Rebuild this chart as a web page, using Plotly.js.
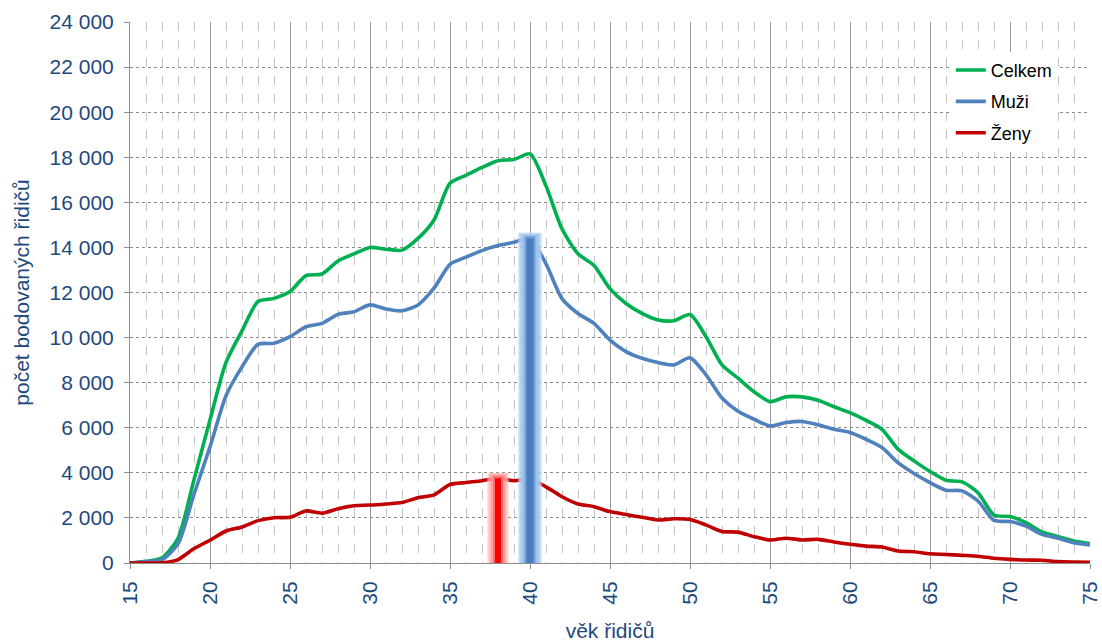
<!DOCTYPE html>
<html>
<head>
<meta charset="utf-8">
<script src="https://cdn.plot.ly/plotly-3.0.1.min.js"></script>
<style>html,body{margin:0;padding:0;background:#fff;}#chart{width:1102px;height:642px;}</style>
</head>
<body>
<div id="chart"></div>
<script>
var ages = [];
for (var a = 15; a <= 75; a++) ages.push(a);

var celkem = [0,75,230,1100,3700,6350,8900,10300,11600,11740,
  12040,12750,12820,13400,13710,14000,13920,13880,14400,15220,
  16850,17200,17550,17850,17900,18150,16730,14820,13720,13200,
  12170,11510,11070,10780,10750,11020,10040,8790,8200,7600,
  7160,7370,7370,7220,6930,6670,6330,5930,5050,4530,
  4060,3670,3600,3120,2130,2060,1790,1380,1170,980,860];
var muzi = [0,60,150,850,3050,5150,7420,8700,9700,9750,
  10040,10480,10630,11030,11150,11450,11270,11190,11450,12190,
  13250,13570,13860,14080,14230,14400,13270,11730,11070,10630,
  9890,9380,9080,8890,8790,9100,8350,7320,6730,6380,
  6080,6230,6280,6130,5930,5790,5490,5120,4450,3970,
  3570,3230,3200,2750,1890,1840,1640,1270,1100,900,800];
var zeny = [0,0,10,150,640,1010,1420,1600,1880,2010,
  2030,2310,2210,2410,2540,2570,2620,2680,2900,3020,
  3480,3570,3650,3760,3650,3720,3380,2940,2620,2500,
  2280,2150,2030,1910,1960,1930,1690,1400,1370,1170,
  1020,1100,1020,1050,930,830,750,710,530,500,
  410,380,340,300,210,160,130,120,60,40,30];

var seriesNames = ['Celkem', 'Muži', 'Ženy'];
var peakZenyAge = 38;
var peakMuziAge = 40;

var fontFam = '"Liberation Sans", Arial, sans-serif';
var axisBlue = '#1F497D';

function series(name, y, color, grp) {
  return {x: ages, y: y, name: name, type: 'scatter', mode: 'lines',
    legendgroup: grp, line: {color: color, width: 3.6, shape: 'spline', smoothing: 0.7},
    hoverinfo: 'skip'};
}
function glowBar(age, top, layers) {
  return layers.map(function (l) {
    return {x: [age, age], y: [-300, top + l[3]], type: 'scatter', mode: 'lines',
      showlegend: false, hoverinfo: 'skip', opacity: l[2],
      line: {color: l[0], width: l[1]}};
  });
}

var traces = [
  series(seriesNames[0], celkem, '#00B050', 'g1'),
  series(seriesNames[1], muzi, '#4F81BD', 'g2'),
  series(seriesNames[2], zeny, '#C00000', 'g3')
];
var redTop = zeny[peakZenyAge - 15];
var blueTop = muzi[peakMuziAge - 15];
traces = traces.concat(glowBar(peakZenyAge, redTop, [
  ['#FFC4C4', 22, 0.45, 260], ['#FFAAAA', 19, 0.6, 220], ['#FF9090', 15, 0.7, 170],
  ['#FF6060', 10, 0.8, 100], ['#FF0000', 6, 1, 0]
]));
traces = traces.concat(glowBar(peakMuziAge, blueTop, [
  ['#BBD6F6', 24, 0.55, 260], ['#A9CBF3', 21, 0.75, 220], ['#9CC2EF', 17, 0.9, 170],
  ['#6F9AD3', 11, 0.9, 90], ['#4A7DBE', 7, 1, 0]
]));

var layout = {
  width: 1102, height: 642,
  margin: {l: 130, r: 12, t: 22, b: 79},
  paper_bgcolor: '#fff', plot_bgcolor: '#fff',
  separators: ', ',
  font: {family: fontFam, color: axisBlue},
  showlegend: true,
  legend: {x: 0.855, xanchor: 'left', y: 0.945, yanchor: 'top',
    bgcolor: '#ffffff', borderwidth: 0, tracegroupgap: 5,
    font: {family: fontFam, size: 18, color: '#000'}},
  xaxis: {
    range: [15, 75], dtick: 5, tick0: 15, tickangle: -90,
    tickfont: {size: 21, color: axisBlue, family: fontFam},
    showline: true, linecolor: '#8c8c8c', linewidth: 1,
    ticks: 'outside', ticklen: 5, tickcolor: '#8c8c8c',
    ticklabelstandoff: 4,
    showgrid: true, gridcolor: '#9a9a9a', gridwidth: 1,
    minor: {dtick: 1, showgrid: true, gridcolor: '#c4c4c4', griddash: 'dash', gridwidth: 1},
    zeroline: false, fixedrange: true,
    title: {text: 'věk řidičů', font: {size: 21, color: axisBlue, family: fontFam}, standoff: 22}
  },
  yaxis: {
    range: [0, 24000], dtick: 2000, tickformat: ',d',
    tickfont: {size: 21, color: axisBlue, family: fontFam},
    showline: true, linecolor: '#8c8c8c', linewidth: 1,
    ticks: 'outside', ticklen: 5, tickcolor: '#8c8c8c',
    ticklabelstandoff: 6,
    showgrid: true, gridcolor: '#8a8a8a', gridwidth: 1, griddash: 'dot',
    zeroline: false, fixedrange: true,
    title: {text: 'počet bodovaných řidičů', font: {size: 21, color: axisBlue, family: fontFam}, standoff: 14}
  }
};

Plotly.newPlot('chart', traces, layout, {staticPlot: true, displayModeBar: false});
</script>
</body>
</html>
